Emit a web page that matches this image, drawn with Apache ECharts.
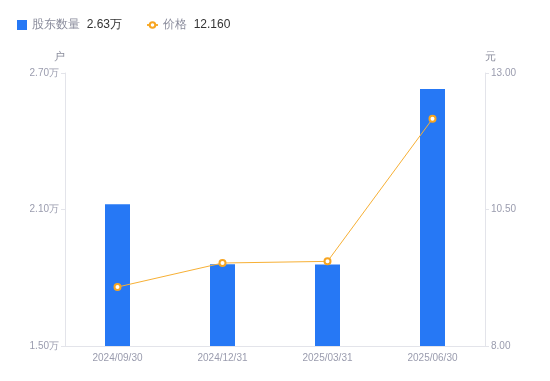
<!DOCTYPE html>
<html>
<head>
<meta charset="utf-8">
<script src="https://cdn.jsdelivr.net/npm/echarts@6/dist/echarts.min.js"></script>
<style>
  html, body { margin: 0; padding: 0; background: #fff; }
  #chart { width: 550px; height: 381px; }
</style>
</head>
<body>
<div id="chart"></div>
<script>
var categories = ['2024/09/30', '2024/12/31', '2025/03/31', '2025/06/30'];
var holders = [21230, 18590, 18580, 26300];   // 股东数量 (户)
var prices = [9.08, 9.52, 9.55, 12.16];       // 价格 (元)
var leftTicks = [15000, 27000, 6000];          // min, max, interval
var rightTicks = [8, 13, 2.5];

var labelColor = '#9a9cae';
var lineColor = '#e3e4ea';

var legendRich = {
  n: { color: '#8a8c9c', fontSize: 12 },
  v: { color: '#333', fontSize: 12 }
};

var myChart = echarts.init(document.getElementById('chart'));
var option = {
  backgroundColor: '#fff',
  animation: false,
  legend: [
    {
      left: 12,
      top: 14,
      itemWidth: 10,
      itemHeight: 10,
      data: [{ name: '股东数量', icon: 'rect' }],
      formatter: function (name) {
        return '{n|' + name + '}  {v|' + (holders[holders.length - 1] / 10000).toFixed(2) + '万}';
      },
      textStyle: { rich: legendRich }
    },
    {
      left: 141,
      top: 14,
      itemWidth: 11,
      itemHeight: 7,
      data: ['价格'],
      formatter: function (name) {
        return '{n|' + name + '}  {v|' + prices[prices.length - 1].toFixed(3) + '}';
      },
      textStyle: { rich: legendRich }
    }
  ],
  grid: { left: 65, right: 65, top: 73, bottom: 35 },
  xAxis: {
    type: 'category',
    data: categories,
    axisLine: { lineStyle: { color: lineColor } },
    axisTick: { show: false },
    axisLabel: { color: labelColor, fontSize: 10, margin: 7 }
  },
  yAxis: [
    {
      type: 'value',
      name: '户',
      nameGap: 11,
      nameTextStyle: { color: '#8a8c9c', fontSize: 11, align: 'right' },
      min: leftTicks[0],
      max: leftTicks[1],
      interval: leftTicks[2],
      splitLine: { show: false },
      axisLine: { show: true, lineStyle: { color: lineColor } },
      axisTick: { show: true, length: 4, lineStyle: { color: lineColor } },
      axisLabel: {
        color: labelColor, fontSize: 10, margin: 6,
        formatter: function (v) { return (v / 10000).toFixed(2) + '万'; }
      }
    },
    {
      type: 'value',
      name: '元',
      nameGap: 11,
      nameTextStyle: { color: '#8a8c9c', fontSize: 11, align: 'left' },
      min: rightTicks[0],
      max: rightTicks[1],
      interval: rightTicks[2],
      splitLine: { show: false },
      axisLine: { show: true, lineStyle: { color: lineColor } },
      axisTick: { show: true, length: 4, lineStyle: { color: lineColor } },
      axisLabel: {
        color: labelColor, fontSize: 10, margin: 6,
        formatter: function (v) { return v.toFixed(2); }
      }
    }
  ],
  series: [
    {
      name: '股东数量',
      type: 'bar',
      yAxisIndex: 0,
      barWidth: 25,
      itemStyle: { color: '#2678f5' },
      data: holders
    },
    {
      name: '价格',
      type: 'line',
      yAxisIndex: 1,
      symbol: 'emptyCircle',
      symbolSize: 6,
      itemStyle: { color: '#f7a521', borderWidth: 2 },
      lineStyle: { color: '#f7b035', width: 1 },
      data: prices
    }
  ]
};
myChart.setOption(option);
</script>
</body>
</html>
